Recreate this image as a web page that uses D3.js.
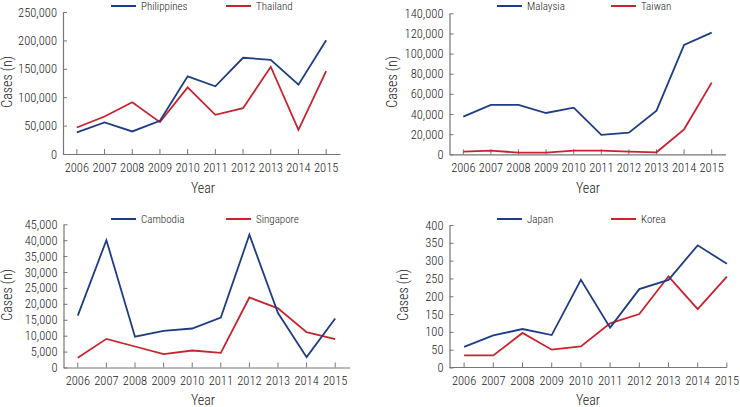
<!DOCTYPE html>
<html><head><meta charset="utf-8">
<script src="https://cdn.jsdelivr.net/npm/d3@7"></script>
<style>
body{margin:0;background:#fff;}
svg{display:block;}
text{font-family:"Liberation Sans Narrow","Arial Narrow","Roboto Condensed","DejaVu Sans Condensed",sans-serif;fill:#222;font-weight:300;}
</style></head>
<body><svg id="chart" width="740" height="407"></svg>
<script>
const years = ["2006","2007","2008","2009","2010","2011","2012","2013","2014","2015"];

const philippines = [38000, 55500, 39700, 58400, 136700, 119200, 169400, 165900, 122000, 200300];
const thailand    = [46700, 66000, 91100, 56100, 117400, 68900, 80600, 153600, 42600, 146000];

const malaysia = [37400, 49000, 49000, 41000, 46300, 19300, 21500, 43400, 108600, 120800];
const taiwan   = [2600, 3600, 1700, 1700, 3600, 3600, 2700, 2000, 24800, 71200];

const cambodia  = [16300, 40000, 9700, 11500, 12250, 15700, 41700, 17100, 3250, 15400];
const singapore = [3040, 9000, 6600, 4200, 5340, 4600, 22000, 18600, 11100, 8900];

const japan = [58, 90, 108, 91, 246, 112, 220, 246, 343, 291];
const korea = [34, 34, 97, 50, 59, 124, 150, 256, 164, 255];

const yTicks1 = [0, 50000, 100000, 150000, 200000, 250000];
const yTicks2 = [0, 20000, 40000, 60000, 80000, 100000, 120000, 140000];
const yTicks3 = [0, 5000, 10000, 15000, 20000, 25000, 30000, 35000, 40000, 45000];
const yTicks4 = [0, 50, 100, 150, 200, 250, 300, 350, 400];

const BLUE = "#1f3d84", RED = "#c8232f", AXIS = "#777";

const panels = [
  {a: {name:"Philippines", v: philippines}, b: {name:"Thailand", v: thailand}, ticks: yTicks1, max: 250000,
   x0: 63, x1: 340, yTop: 12, yBot: 154, legY: 6, legA: 111, legB: 226, titleX: 7, titleY: 82, yearX: 203, yearY: 188, axisEnd: null},
  {a: {name:"Malaysia", v: malaysia}, b: {name:"Taiwan", v: taiwan}, ticks: yTicks2, max: 140000,
   x0: 449.5, x1: 725.5, yTop: 13.3, yBot: 154.3, legY: 6, legA: 497, legB: 611, titleX: 392, titleY: 82, yearX: 588, yearY: 188, axisEnd: null},
  {a: {name:"Cambodia", v: cambodia}, b: {name:"Singapore", v: singapore}, ticks: yTicks3, max: 45000,
   x0: 63.5, x1: 349.5, yTop: 224.3, yBot: 367.5, legY: 219, legA: 111, legB: 226, titleX: 7, titleY: 295, yearX: 203, yearY: 400, axisEnd: null},
  {a: {name:"Japan", v: japan}, b: {name:"Korea", v: korea}, ticks: yTicks4, max: 400,
   x0: 449.5, x1: 741.5, yTop: 225, yBot: 367.5, legY: 219, legA: 497, legB: 611, titleX: 403, titleY: 295, yearX: 588, yearY: 400, axisEnd: "last"}
];

const svg = d3.select("#chart");
const fmt = d3.format(",");

panels.forEach(p => {
  const g = svg.append("g");
  const x = d3.scaleBand().domain(years).range([p.x0, p.x1]);
  const y = d3.scaleLinear().domain([0, p.max]).range([p.yBot, p.yTop]);
  const cx = d => x(d) + x.bandwidth() / 2;

  const xa = g.append("g").attr("transform", `translate(0,${p.yBot})`)
    .call(d3.axisBottom(x).tickSizeInner(-5).tickSizeOuter(0).tickPadding(9));
  if (p.axisEnd === "last") {
    xa.select(".domain").attr("d", `M${p.x0},0H${cx(years[years.length-1])}`);
  }
  const ya = g.append("g").attr("transform", `translate(${p.x0},0)`)
    .call(d3.axisLeft(y).tickValues(p.ticks).tickFormat(fmt).tickSizeInner(-4).tickSizeOuter(0).tickPadding(6));
  [xa, ya].forEach(a => {
    a.select(".domain").attr("stroke", AXIS).attr("stroke-width", 1.2);
    a.selectAll(".tick line").attr("stroke", AXIS);
    a.selectAll(".tick text").attr("font-size", 12.5).attr("fill", "#222");
    a.attr("font-family", null);
  });

  const line = d3.line().x((d, i) => cx(years[i])).y(d => y(d));
  [[p.b, RED], [p.a, BLUE]].forEach(([s, c]) => {
    g.append("path").datum(s.v).attr("d", line).attr("fill", "none")
      .attr("stroke", c).attr("stroke-width", 1.8).attr("stroke-linejoin", "miter");
  });

  [[p.a, BLUE, p.legA], [p.b, RED, p.legB]].forEach(([s, c, lx]) => {
    g.append("line").attr("x1", lx).attr("x2", lx + 25).attr("y1", p.legY).attr("y2", p.legY)
      .attr("stroke", c).attr("stroke-width", 2);
    g.append("text").attr("x", lx + 30).attr("y", p.legY).attr("dy", "0.35em")
      .attr("font-size", 11).text(s.name);
  });

  g.append("text").attr("transform", `translate(${p.titleX},${p.titleY}) rotate(-90)`)
    .attr("text-anchor", "middle").attr("dy", "0.35em").attr("font-size", 14).text("Cases (n)");
  g.append("text").attr("x", p.yearX).attr("y", p.yearY).attr("text-anchor", "middle")
    .attr("dy", "0.35em").attr("font-size", 14).text("Year");
});
</script></body></html>
